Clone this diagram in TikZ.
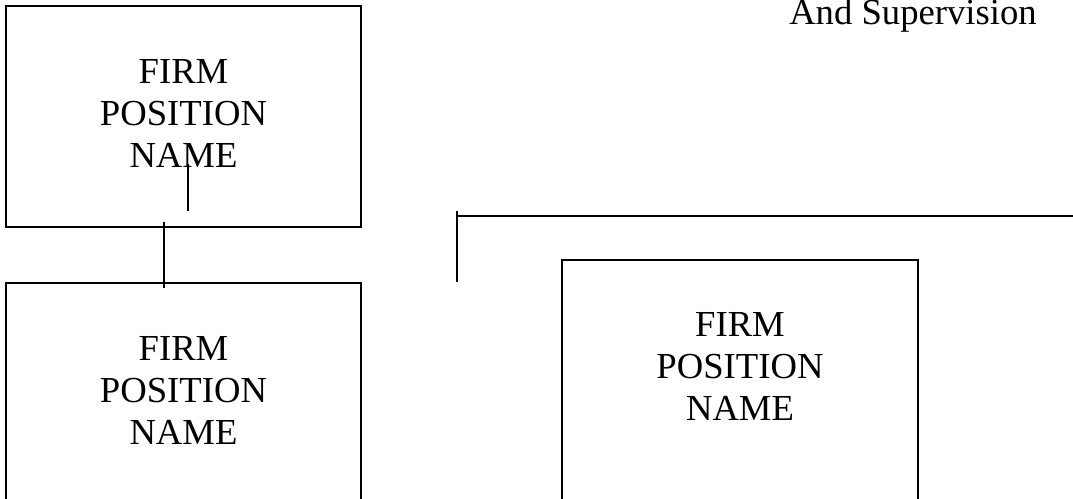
\documentclass[tikz,border=0pt]{standalone}
\usepackage{fontspec}
\setmainfont{Liberation Serif}
\usetikzlibrary{positioning}
\usetikzlibrary{calc}
\tikzstyle{firmbox} = [rectangle, draw=black, line width=1.5pt, minimum width=266.25pt, minimum height=165.75pt, inner sep=0pt]
\tikzstyle{firmtext} = [align=center, inner sep=0pt, anchor=north, font=\fontsize{27.5}{31.5}\selectfont]
\tikzstyle{link} = [draw=black, line width=1.2pt]

\begin{document}
\begin{tikzpicture}[x=0.75pt, y=-0.75pt]

    \useasboundingbox (0, 0) rectangle (1073, 499);

    % left column
    \node(firmtop)[firmbox] at (183.5, 116.5) {};
    \node(firmtoptext)[firmtext, below=40.5pt of firmtop.north] {FIRM\\POSITION\\NAME};

    \node(firmmid)[firmbox] at (183.5, 393.5) {};
    \node(firmmidtext)[firmtext, below=40.5pt of firmmid.north] {FIRM\\POSITION\\NAME};

    % right box
    \node(firmright)[firmbox, minimum width=267pt, minimum height=195pt] at (740, 390) {};
    \node(firmrighttext)[firmtext, below=40pt of firmright.north] {FIRM\\POSITION\\NAME};

    \node(supervision)[firmtext, anchor=base] at (913, 25) {And Supervision};

    % lines
    \draw[link] ($(firmtop.south)+(4.5,-64)$) -- ($(firmtop.south)+(4.5,-17)$);
    \draw[link] ($(firmtop.south)+(-19.5,-6)$) -- ($(firmmid.north)+(-19.5,6)$);

    \coordinate(branch) at (457, 216);
    \coordinate(branchend) at (1073, 216);
    \draw[link] ($(branch)+(0,-5)$) -- ($(branch)+(0,66)$);
    \draw[link, line width=1.5pt] (branch) -- (branchend);

\end{tikzpicture}
\end{document}
